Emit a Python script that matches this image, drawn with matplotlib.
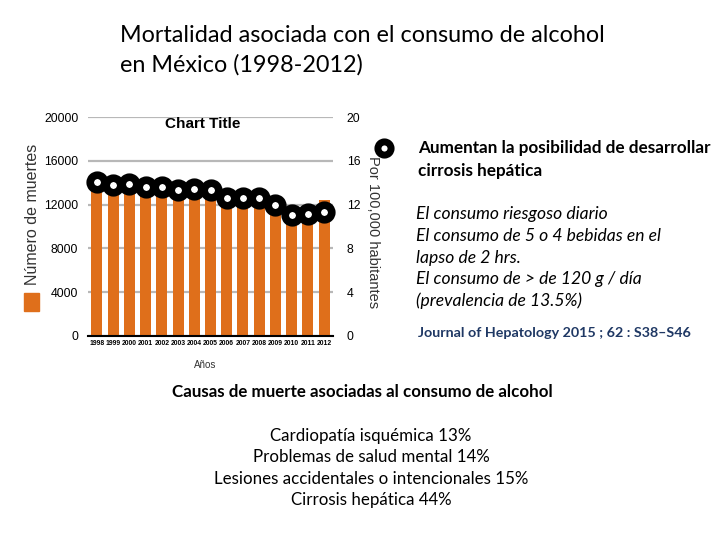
import matplotlib
matplotlib.use("Agg")
import matplotlib.pyplot as plt
from matplotlib.patches import Rectangle
from matplotlib.lines import Line2D

years = [str(y) for y in range(1998, 2013)]
deaths = [13700, 13300, 13400, 13200, 13100, 12900, 13000, 12900,
          12200, 12200, 12200, 11500, 10500, 10600, 12400]
rate = [14.1, 13.8, 13.85, 13.6, 13.6, 13.3, 13.4, 13.3,
        12.6, 12.6, 12.6, 12.0, 11.05, 11.15, 11.35]

left_ticks = [0, 4000, 8000, 12000, 16000, 20000]
right_ticks = [0, 4, 8, 12, 16, 20]

title = ["Mortalidad asociada con el consumo de alcohol",
         "en México (1998-2012)"]
side_head = ["Aumentan la posibilidad de desarrollar",
             "cirrosis hepática"]
side_body = ["El consumo riesgoso diario",
             "El consumo de 5 o 4 bebidas en el",
             "lapso de 2 hrs.",
             "El consumo de > de 120 g / día",
             "(prevalencia de 13.5%)"]
journal = "Journal of Hepatology 2015 ; 62 : S38–S46"
causes_head = "Causas de muerte asociadas al consumo de alcohol"
causes = ["Cardiopatía isquémica 13%",
          "Problemas de salud mental 14%",
          "Lesiones accidentales o intencionales 15%",
          "Cirrosis hepática 44%"]

ORANGE = "#DF6F1B"
SLIDE = ["Lato", "DejaVu Sans"]
CHART = ["Liberation Sans", "DejaVu Sans"]

W, H = 720, 540
fig = plt.figure(figsize=(7.2, 5.4), dpi=100)
fig.patch.set_facecolor("white")


def fx(px):
    return px / W


def fy(py):
    return 1 - py / H


def lines_at(x0, ys, texts, **kw):
    for yy, t in zip(ys, texts):
        fig.text(fx(x0), fy(yy), t, va="center", **kw)


ax = fig.add_axes([fx(88), fy(336), fx(333) - fx(88), fy(117) - fy(336)])
x = list(range(len(years)))
ax.bar(x, deaths, width=0.68, color=ORANGE, zorder=2)
ax.set_ylim(0, 20000)
ax.set_xlim(-0.55, len(years) - 0.45)
ax.set_yticks(left_ticks)
ax.set_yticklabels([str(t) for t in left_ticks], fontsize=8.8, family=CHART)
ax.yaxis.grid(True, color="#b8b8b8", linewidth=1.6, zorder=0)
ax.set_axisbelow(True)
for s in ["top", "left", "right"]:
    ax.spines[s].set_visible(False)
ax.spines["bottom"].set_linewidth(1.5)
ax.spines["bottom"].set_zorder(3)
ax.tick_params(axis="y", length=0, pad=7)
ax.tick_params(axis="x", length=0, pad=3)
ax.set_xticks(x)
ax.set_xticklabels(years, fontsize=4.9, family=CHART, fontweight="bold",
                   fontstretch="condensed")

ax2 = ax.twinx()
ax2.set_ylim(0, 20)
ax2.set_yticks(right_ticks)
ax2.set_yticklabels([str(t) for t in right_ticks], fontsize=8.8, family=CHART)
ax2.tick_params(axis="y", length=0, pad=10)
for s in ["top", "left", "right", "bottom"]:
    ax2.spines[s].set_visible(False)
ax2.plot(x, rate, linestyle="none", marker="o", markersize=10.5,
         markerfacecolor="white", markeredgecolor="black",
         markeredgewidth=5.5, zorder=5, clip_on=False)

fig.text(fx(203), fy(124), "Chart Title", ha="center", va="center",
         fontsize=11, fontweight="bold", family=CHART)

# Axis labels with legend keys
fig.text(fx(33), fy(214), "Número de muertes", rotation=90, ha="center",
         va="center", fontsize=11.5, family=CHART, color="#333333")
fig.patches.append(Rectangle((fx(24), fy(311)), fx(15), fy(293) - fy(311),
                             transform=fig.transFigure, color=ORANGE))
fig.text(fx(373), fy(232), "Por 100,000 habitantes", rotation=270, ha="center",
         va="center", fontsize=10.5, family=CHART, color="#333333")
fig.lines.append(Line2D([fx(384)], [fy(148)], transform=fig.transFigure,
                        marker="o", markersize=9.5, markerfacecolor="white",
                        markeredgecolor="black", markeredgewidth=5))
fig.text(fx(205), fy(365), "Años", ha="center", va="center", fontsize=7,
         family=CHART, color="#333333")

# Slide text
lines_at(120, [36, 65], title, ha="left", fontsize=16.8, family=SLIDE)
lines_at(418, [148, 171], side_head, ha="left", fontsize=12.3,
         fontweight="bold", family=SLIDE)
lines_at(416, [214, 236, 258, 279, 301], side_body, ha="left", fontsize=12.6,
         style="italic", family=SLIDE)
fig.text(fx(418), fy(333), journal, ha="left", va="center", fontsize=10.3,
         fontweight="bold", family=SLIDE, color="#1F3864")
fig.text(fx(362), fy(392), causes_head, ha="center", va="center", fontsize=12.2,
         fontweight="bold", family=SLIDE)
for yy, t in zip([436, 457, 479, 500], causes):
    fig.text(fx(371), fy(yy), t, ha="center", va="center", fontsize=12.2,
             family=SLIDE)

fig.savefig("out.png", dpi=100)
